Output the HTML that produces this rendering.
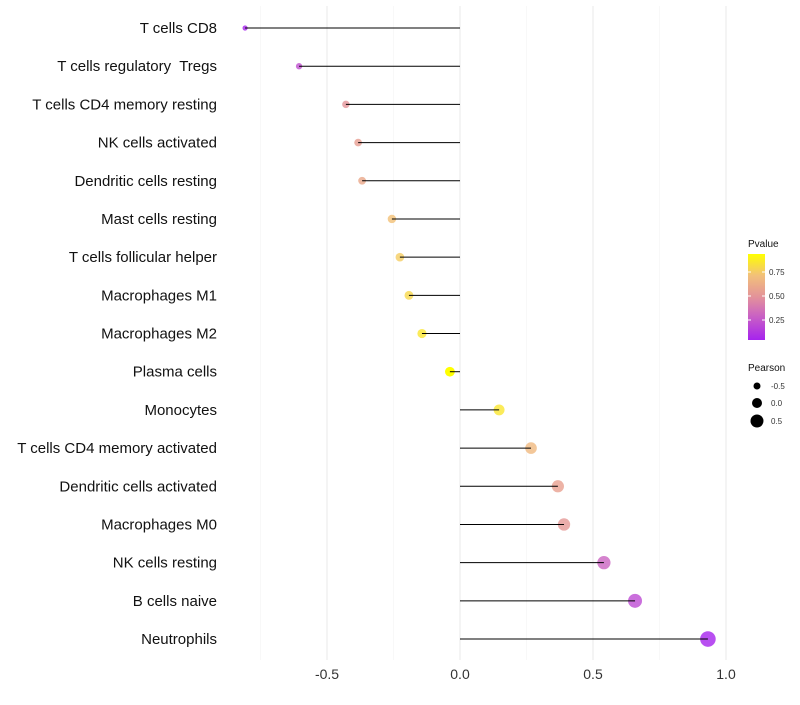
<!DOCTYPE html>
<html><head><meta charset="utf-8"><style>
body{margin:0;background:#fff;font-family:"Liberation Sans",sans-serif}
</style></head><body>
<svg id="chart" width="800" height="700" xmlns="http://www.w3.org/2000/svg">
<defs><linearGradient id="pg" x1="0" y1="1" x2="0" y2="0">
<stop offset="0" stop-color="#a623ee"/><stop offset="0.3" stop-color="#cc66c0"/><stop offset="0.5" stop-color="#e3929a"/><stop offset="0.75" stop-color="#f2c07a"/><stop offset="1" stop-color="#ffff00"/></linearGradient></defs>
<g id="grid"></g><g id="marks"></g><g id="labels"></g><g id="legend"></g>
</svg>
<script>
const categories=["T cells CD8","T cells regulatory  Tregs","T cells CD4 memory resting","NK cells activated","Dendritic cells resting","Mast cells resting","T cells follicular helper","Macrophages M1","Macrophages M2","Plasma cells","Monocytes","T cells CD4 memory activated","Dendritic cells activated","Macrophages M0","NK cells resting","B cells naive","Neutrophils"];
const pearson=[-0.808,-0.605,-0.429,-0.383,-0.368,-0.256,-0.226,-0.192,-0.143,-0.038,0.147,0.267,0.368,0.391,0.541,0.658,0.932];
const pvalue=[0.03,0.22,0.5,0.55,0.6,0.72,0.76,0.8,0.85,0.97,0.85,0.68,0.56,0.52,0.3,0.2,0.02];
const xTicks=[-0.5,0,0.5,1.0];
const xTickLabels=["-0.5","0.0","0.5","1.0"];
const xMinor=[-0.75,-0.25,0.25,0.75];
const ns="http://www.w3.org/2000/svg";
const X=v=>460+v*266;
const Y=i=>28+i*38.19;
const R=v=>5+3*v;
const stops=[[0,[166,35,238]],[0.3,[204,102,192]],[0.5,[227,146,154]],[0.75,[242,192,122]],[1,[255,255,0]]];
function col(p){p=Math.max(0,Math.min(1,(p-0.04)/0.9));for(let k=1;k<stops.length;k++){if(p<=stops[k][0]){const a=stops[k-1],b=stops[k],t=(p-a[0])/(b[0]-a[0]);return "rgb("+a[1].map((c,j)=>Math.round(c+(b[1][j]-c)*t)).join(",")+")";}}return "rgb(255,255,0)";}
function el(t,a,parent,txt){const e=document.createElementNS(ns,t);for(const k in a)e.setAttribute(k,a[k]);if(txt!==undefined)e.textContent=txt;parent.appendChild(e);return e;}
const grid=document.getElementById('grid'),marks=document.getElementById('marks'),labels=document.getElementById('labels'),legend=document.getElementById('legend');
xMinor.forEach(v=>{const l=el('line',{x1:X(v),x2:X(v),y1:6,y2:660,stroke:'#f3f3f3','stroke-width':0.6},grid);

});
xTicks.forEach((v,i)=>{const l=el('line',{x1:X(v),x2:X(v),y1:6,y2:660,stroke:'#ebebeb','stroke-width':1.1},grid);


const t=el('text',{x:X(v),y:679,'text-anchor':'middle','font-size':14,fill:'#333'},labels,xTickLabels[i]);

});
categories.forEach((c,i)=>{const y=Y(i);
const d=el('circle',{cx:X(pearson[i]),cy:y,r:R(pearson[i]),fill:col(pvalue[i]),'fill-opacity':pvalue[i]>0.93?1:0.8},marks);


const l=el('line',{x1:X(0),x2:X(pearson[i]),y1:y,y2:y,stroke:'#000','stroke-width':1},marks);


const t=el('text',{x:217,y:y+5,'text-anchor':'end','font-size':15,fill:'#111','xml:space':'preserve',style:'white-space:pre'},labels,c);

});
el('text',{x:748,y:247,'font-size':10,fill:'#111'},legend,'Pvalue');
const bar=el('rect',{x:748,y:254,width:17,height:86,fill:'url(#pg)'},legend);


[[0.75,272],[0.5,296],[0.25,320]].forEach(a=>{el('line',{x1:748,x2:751,y1:a[1],y2:a[1],stroke:'#fff'},legend);el('line',{x1:762,x2:765,y1:a[1],y2:a[1],stroke:'#fff'},legend);
el('text',{x:769,y:a[1]+3,'font-size':8,fill:'#333'},legend,a[0].toFixed(2));});
el('text',{x:748,y:371,'font-size':10,fill:'#111'},legend,'Pearson');
[[-0.5,386],[0,403],[0.5,421]].forEach(a=>{const c=el('circle',{cx:757,cy:a[1],r:R(a[0]),fill:'#000'},legend);


el('text',{x:771,y:a[1]+3,'font-size':8,fill:'#333'},legend,a[0].toFixed(1));});
</script>
</body></html>
